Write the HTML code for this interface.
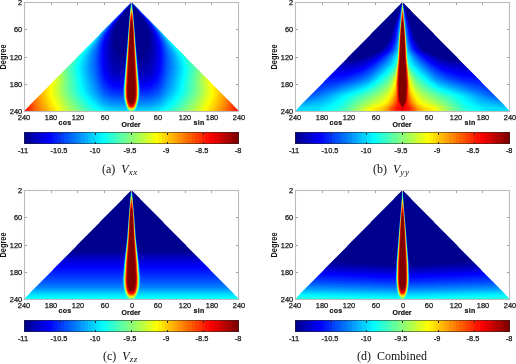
<!DOCTYPE html><html><head><meta charset="utf-8"><style>
*{margin:0;padding:0;box-sizing:border-box}
html,body{width:516px;height:364px;overflow:hidden;background:#fff}
body{position:relative;font-family:"Liberation Sans",sans-serif;color:#111}
.yl,.xl,.cl{-webkit-text-stroke:0.25px #111}
.ord,.cos,.sin{-webkit-text-stroke:0.2px #111}
.p{position:absolute;width:258px;height:182px}
.p>*{position:absolute}
.hm{left:24px;top:2px;width:215px;height:109px}
.ln{background:#bcbcbc;box-shadow:0 0 0.8px #ccc}
.tk{background:#a0a0a0}
.ctk{background:#2a2a3a}
.yl{left:0;width:22.2px;text-align:right;font-size:7.9px;line-height:10px;white-space:nowrap;transform:scale(0.94,1.0);transform-origin:100% 50%}
.xl{width:30px;top:112.5px;text-align:center;font-size:7.9px;line-height:10px;transform:scaleX(0.94)}
.cl{width:30px;top:146.2px;text-align:center;font-size:7.9px;line-height:10px;transform:scaleX(0.94)}
.deg{left:-10.8px;top:51.9px;width:30px;height:10px;line-height:10px;text-align:center;font-size:8.2px;font-weight:bold;transform:rotate(-90deg) scaleX(0.9);transform-origin:50% 50%}
.ord{left:116.2px;top:120.4px;width:30px;text-align:center;font-size:7.8px;font-weight:bold;line-height:10px;transform:scaleX(0.9)}
.cos{left:49.6px;top:117.8px;width:30px;text-align:center;font-size:7.8px;letter-spacing:0.3px;font-weight:bold;line-height:10px;transform:scaleX(0.9)}
.sin{left:184.2px;top:117.8px;width:30px;text-align:center;font-size:7.8px;letter-spacing:0.3px;font-weight:bold;line-height:10px;transform:scaleX(0.9)}
.cb{left:24px;top:132px;width:215px;height:12px;background:linear-gradient(90deg,#00008f,#00f 12.5%,#0ff 37.5%,#ff0 62.5%,#f00 87.5%,#800000)}
.fb{left:24px;top:2px;width:215px;height:109px;clip-path:polygon(50% 0,100% 100%,0 100%)}
.fb i{position:absolute;left:50%;margin-left:-7px;width:14px;top:1%;height:96%;clip-path:polygon(50% 0,70% 40%,85% 80%,78% 93%,50% 100%,22% 93%,15% 80%,30% 40%);background:radial-gradient(ellipse 50% 60% at 50% 65%,#800000 55%,#f00 70%,#ff0 82%,#0ff 92%,#00f 100%)}
.fb1{background:linear-gradient(rgba(0,0,150,.75),rgba(0,0,150,0) 65%),linear-gradient(90deg,#f00,#fa0 8%,#ff0 18%,#0ff 32%,#06f 42%,#00a 48%,#00a 52%,#06f 58%,#0ff 68%,#ff0 82%,#fa0 92%,#f00)}
.fb2{background:radial-gradient(ellipse 70% 90% at 50% 100%,#800000,#f00 12%,#ff0 35%,#0ff 60%,#06f 80%,#000090 100%)}
.fb3,.fb4{background:linear-gradient(#000090 55%,#00f 78%,#08f 90%,#0ff)}
.fb4 i{width:11px;margin-left:-5.5px}
.cbb{left:24px;top:132px;width:215px;height:12px;border:1px solid rgba(40,40,40,.55)}
.cap{font-family:"Liberation Serif",serif;font-size:12px;line-height:14px;top:162px;white-space:nowrap;color:#111}
.cap i{font-style:italic}
.cap sub{font-size:9px;letter-spacing:0.7px;vertical-align:baseline;position:relative;top:2.1px}
</style></head><body>
<div class="p" style="left:0px;top:0px">
<div class="fb fb1"><i></i></div>
<canvas class="hm" id="hm1" width="215" height="109"></canvas>
<div class="ln" style="left:24px;top:2px;width:215px;height:1px"></div>
<div class="ln" style="left:24px;top:2px;width:1px;height:110px"></div>
<div class="ln" style="left:238px;top:2px;width:1px;height:110px"></div>
<div class="ln" style="left:24px;top:111px;width:215px;height:1px"></div>
<div class="tk" style="left:50.6px;top:3px;width:1px;height:2px"></div>
<div class="tk" style="left:77.4px;top:3px;width:1px;height:2px"></div>
<div class="tk" style="left:104.2px;top:3px;width:1px;height:2px"></div>
<div class="tk" style="left:131.0px;top:3px;width:1px;height:2px"></div>
<div class="tk" style="left:157.8px;top:3px;width:1px;height:2px"></div>
<div class="tk" style="left:184.6px;top:3px;width:1px;height:2px"></div>
<div class="tk" style="left:211.4px;top:3px;width:1px;height:2px"></div>
<div class="tk" style="left:25px;top:28.8px;width:2px;height:1px"></div>
<div class="tk" style="left:236px;top:28.8px;width:2px;height:1px"></div>
<div class="tk" style="left:25px;top:56.6px;width:2px;height:1px"></div>
<div class="tk" style="left:236px;top:56.6px;width:2px;height:1px"></div>
<div class="tk" style="left:25px;top:84.1px;width:2px;height:1px"></div>
<div class="tk" style="left:236px;top:84.1px;width:2px;height:1px"></div>
<div class="yl" style="top:-1.7px">2</div>
<div class="yl" style="top:25.0px">60</div>
<div class="yl" style="top:52.8px">120</div>
<div class="yl" style="top:80.3px">180</div>
<div class="yl" style="top:106.5px">240</div>
<div class="xl" style="left:9.3px">240</div>
<div class="xl" style="left:36.1px">180</div>
<div class="xl" style="left:62.9px">120</div>
<div class="xl" style="left:89.7px">60</div>
<div class="xl" style="left:116.5px">0</div>
<div class="xl" style="left:143.3px">60</div>
<div class="xl" style="left:170.1px">120</div>
<div class="xl" style="left:196.9px">180</div>
<div class="xl" style="left:223.7px">240</div>
<div class="deg">Degree</div>
<div class="ord">Order</div>
<div class="cos">cos</div>
<div class="sin">sin</div>
<canvas class="cb" width="215" height="12"></canvas>
<div class="cbb"></div>
<div class="ctk" style="left:59.5px;top:133px;width:1px;height:2px"></div>
<div class="ctk" style="left:59.5px;top:142px;width:1px;height:2px"></div>
<div class="ctk" style="left:95.3px;top:133px;width:1px;height:2px"></div>
<div class="ctk" style="left:95.3px;top:142px;width:1px;height:2px"></div>
<div class="ctk" style="left:131.0px;top:133px;width:1px;height:2px"></div>
<div class="ctk" style="left:131.0px;top:142px;width:1px;height:2px"></div>
<div class="ctk" style="left:166.7px;top:133px;width:1px;height:2px"></div>
<div class="ctk" style="left:166.7px;top:142px;width:1px;height:2px"></div>
<div class="ctk" style="left:202.5px;top:133px;width:1px;height:2px"></div>
<div class="ctk" style="left:202.5px;top:142px;width:1px;height:2px"></div>
<div class="cl" style="left:8.1px">-11</div>
<div class="cl" style="left:43.8px">-10.5</div>
<div class="cl" style="left:79.6px">-10</div>
<div class="cl" style="left:115.3px">-9.5</div>
<div class="cl" style="left:151.0px">-9</div>
<div class="cl" style="left:186.8px">-8.5</div>
<div class="cl" style="left:222.5px">-8</div>
<div class="cap" style="left:102px">(a)&nbsp; <i>V</i><sub><i>xx</i></sub></div>
</div>
<div class="p" style="left:271px;top:0px">
<div class="fb fb2"><i></i></div>
<canvas class="hm" id="hm2" width="215" height="109"></canvas>
<div class="ln" style="left:24px;top:2px;width:215px;height:1px"></div>
<div class="ln" style="left:24px;top:2px;width:1px;height:110px"></div>
<div class="ln" style="left:238px;top:2px;width:1px;height:110px"></div>
<div class="ln" style="left:24px;top:111px;width:215px;height:1px"></div>
<div class="tk" style="left:50.6px;top:3px;width:1px;height:2px"></div>
<div class="tk" style="left:77.4px;top:3px;width:1px;height:2px"></div>
<div class="tk" style="left:104.2px;top:3px;width:1px;height:2px"></div>
<div class="tk" style="left:131.0px;top:3px;width:1px;height:2px"></div>
<div class="tk" style="left:157.8px;top:3px;width:1px;height:2px"></div>
<div class="tk" style="left:184.6px;top:3px;width:1px;height:2px"></div>
<div class="tk" style="left:211.4px;top:3px;width:1px;height:2px"></div>
<div class="tk" style="left:25px;top:28.8px;width:2px;height:1px"></div>
<div class="tk" style="left:236px;top:28.8px;width:2px;height:1px"></div>
<div class="tk" style="left:25px;top:56.6px;width:2px;height:1px"></div>
<div class="tk" style="left:236px;top:56.6px;width:2px;height:1px"></div>
<div class="tk" style="left:25px;top:84.1px;width:2px;height:1px"></div>
<div class="tk" style="left:236px;top:84.1px;width:2px;height:1px"></div>
<div class="yl" style="top:-1.7px">2</div>
<div class="yl" style="top:25.0px">60</div>
<div class="yl" style="top:52.8px">120</div>
<div class="yl" style="top:80.3px">180</div>
<div class="yl" style="top:106.5px">240</div>
<div class="xl" style="left:9.3px">240</div>
<div class="xl" style="left:36.1px">180</div>
<div class="xl" style="left:62.9px">120</div>
<div class="xl" style="left:89.7px">60</div>
<div class="xl" style="left:116.5px">0</div>
<div class="xl" style="left:143.3px">60</div>
<div class="xl" style="left:170.1px">120</div>
<div class="xl" style="left:196.9px">180</div>
<div class="xl" style="left:223.7px">240</div>
<div class="deg">Degree</div>
<div class="ord">Order</div>
<div class="cos">cos</div>
<div class="sin">sin</div>
<canvas class="cb" width="215" height="12"></canvas>
<div class="cbb"></div>
<div class="ctk" style="left:59.5px;top:133px;width:1px;height:2px"></div>
<div class="ctk" style="left:59.5px;top:142px;width:1px;height:2px"></div>
<div class="ctk" style="left:95.3px;top:133px;width:1px;height:2px"></div>
<div class="ctk" style="left:95.3px;top:142px;width:1px;height:2px"></div>
<div class="ctk" style="left:131.0px;top:133px;width:1px;height:2px"></div>
<div class="ctk" style="left:131.0px;top:142px;width:1px;height:2px"></div>
<div class="ctk" style="left:166.7px;top:133px;width:1px;height:2px"></div>
<div class="ctk" style="left:166.7px;top:142px;width:1px;height:2px"></div>
<div class="ctk" style="left:202.5px;top:133px;width:1px;height:2px"></div>
<div class="ctk" style="left:202.5px;top:142px;width:1px;height:2px"></div>
<div class="cl" style="left:8.1px">-11</div>
<div class="cl" style="left:43.8px">-10.5</div>
<div class="cl" style="left:79.6px">-10</div>
<div class="cl" style="left:115.3px">-9.5</div>
<div class="cl" style="left:151.0px">-9</div>
<div class="cl" style="left:186.8px">-8.5</div>
<div class="cl" style="left:222.5px">-8</div>
<div class="cap" style="left:373px;left:102px">(b)&nbsp; <i>V</i><sub><i>yy</i></sub></div>
</div>
<div class="p" style="left:0px;top:188px">
<div class="fb fb3"><i></i></div>
<canvas class="hm" id="hm3" width="215" height="109"></canvas>
<div class="ln" style="left:24px;top:2px;width:215px;height:1px"></div>
<div class="ln" style="left:24px;top:2px;width:1px;height:110px"></div>
<div class="ln" style="left:238px;top:2px;width:1px;height:110px"></div>
<div class="ln" style="left:24px;top:111px;width:215px;height:1px"></div>
<div class="tk" style="left:50.6px;top:3px;width:1px;height:2px"></div>
<div class="tk" style="left:77.4px;top:3px;width:1px;height:2px"></div>
<div class="tk" style="left:104.2px;top:3px;width:1px;height:2px"></div>
<div class="tk" style="left:131.0px;top:3px;width:1px;height:2px"></div>
<div class="tk" style="left:157.8px;top:3px;width:1px;height:2px"></div>
<div class="tk" style="left:184.6px;top:3px;width:1px;height:2px"></div>
<div class="tk" style="left:211.4px;top:3px;width:1px;height:2px"></div>
<div class="tk" style="left:25px;top:28.8px;width:2px;height:1px"></div>
<div class="tk" style="left:236px;top:28.8px;width:2px;height:1px"></div>
<div class="tk" style="left:25px;top:56.6px;width:2px;height:1px"></div>
<div class="tk" style="left:236px;top:56.6px;width:2px;height:1px"></div>
<div class="tk" style="left:25px;top:84.1px;width:2px;height:1px"></div>
<div class="tk" style="left:236px;top:84.1px;width:2px;height:1px"></div>
<div class="yl" style="top:-1.7px">2</div>
<div class="yl" style="top:25.0px">60</div>
<div class="yl" style="top:52.8px">120</div>
<div class="yl" style="top:80.3px">180</div>
<div class="yl" style="top:106.5px">240</div>
<div class="xl" style="left:9.3px">240</div>
<div class="xl" style="left:36.1px">180</div>
<div class="xl" style="left:62.9px">120</div>
<div class="xl" style="left:89.7px">60</div>
<div class="xl" style="left:116.5px">0</div>
<div class="xl" style="left:143.3px">60</div>
<div class="xl" style="left:170.1px">120</div>
<div class="xl" style="left:196.9px">180</div>
<div class="xl" style="left:223.7px">240</div>
<div class="deg">Degree</div>
<div class="ord">Order</div>
<div class="cos">cos</div>
<div class="sin">sin</div>
<canvas class="cb" width="215" height="12"></canvas>
<div class="cbb"></div>
<div class="ctk" style="left:59.5px;top:133px;width:1px;height:2px"></div>
<div class="ctk" style="left:59.5px;top:142px;width:1px;height:2px"></div>
<div class="ctk" style="left:95.3px;top:133px;width:1px;height:2px"></div>
<div class="ctk" style="left:95.3px;top:142px;width:1px;height:2px"></div>
<div class="ctk" style="left:131.0px;top:133px;width:1px;height:2px"></div>
<div class="ctk" style="left:131.0px;top:142px;width:1px;height:2px"></div>
<div class="ctk" style="left:166.7px;top:133px;width:1px;height:2px"></div>
<div class="ctk" style="left:166.7px;top:142px;width:1px;height:2px"></div>
<div class="ctk" style="left:202.5px;top:133px;width:1px;height:2px"></div>
<div class="ctk" style="left:202.5px;top:142px;width:1px;height:2px"></div>
<div class="cl" style="left:8.1px">-11</div>
<div class="cl" style="left:43.8px">-10.5</div>
<div class="cl" style="left:79.6px">-10</div>
<div class="cl" style="left:115.3px">-9.5</div>
<div class="cl" style="left:151.0px">-9</div>
<div class="cl" style="left:186.8px">-8.5</div>
<div class="cl" style="left:222.5px">-8</div>
<div class="cap" style="left:103px;top:161px">(c)&nbsp; <i>V</i><sub><i>zz</i></sub></div>
</div>
<div class="p" style="left:271px;top:188px">
<div class="fb fb4"><i></i></div>
<canvas class="hm" id="hm4" width="215" height="109"></canvas>
<div class="ln" style="left:24px;top:2px;width:215px;height:1px"></div>
<div class="ln" style="left:24px;top:2px;width:1px;height:110px"></div>
<div class="ln" style="left:238px;top:2px;width:1px;height:110px"></div>
<div class="ln" style="left:24px;top:111px;width:215px;height:1px"></div>
<div class="tk" style="left:50.6px;top:3px;width:1px;height:2px"></div>
<div class="tk" style="left:77.4px;top:3px;width:1px;height:2px"></div>
<div class="tk" style="left:104.2px;top:3px;width:1px;height:2px"></div>
<div class="tk" style="left:131.0px;top:3px;width:1px;height:2px"></div>
<div class="tk" style="left:157.8px;top:3px;width:1px;height:2px"></div>
<div class="tk" style="left:184.6px;top:3px;width:1px;height:2px"></div>
<div class="tk" style="left:211.4px;top:3px;width:1px;height:2px"></div>
<div class="tk" style="left:25px;top:28.8px;width:2px;height:1px"></div>
<div class="tk" style="left:236px;top:28.8px;width:2px;height:1px"></div>
<div class="tk" style="left:25px;top:56.6px;width:2px;height:1px"></div>
<div class="tk" style="left:236px;top:56.6px;width:2px;height:1px"></div>
<div class="tk" style="left:25px;top:84.1px;width:2px;height:1px"></div>
<div class="tk" style="left:236px;top:84.1px;width:2px;height:1px"></div>
<div class="yl" style="top:-1.7px">2</div>
<div class="yl" style="top:25.0px">60</div>
<div class="yl" style="top:52.8px">120</div>
<div class="yl" style="top:80.3px">180</div>
<div class="yl" style="top:106.5px">240</div>
<div class="xl" style="left:9.3px">240</div>
<div class="xl" style="left:36.1px">180</div>
<div class="xl" style="left:62.9px">120</div>
<div class="xl" style="left:89.7px">60</div>
<div class="xl" style="left:116.5px">0</div>
<div class="xl" style="left:143.3px">60</div>
<div class="xl" style="left:170.1px">120</div>
<div class="xl" style="left:196.9px">180</div>
<div class="xl" style="left:223.7px">240</div>
<div class="deg">Degree</div>
<div class="ord">Order</div>
<div class="cos">cos</div>
<div class="sin">sin</div>
<canvas class="cb" width="215" height="12"></canvas>
<div class="cbb"></div>
<div class="ctk" style="left:59.5px;top:133px;width:1px;height:2px"></div>
<div class="ctk" style="left:59.5px;top:142px;width:1px;height:2px"></div>
<div class="ctk" style="left:95.3px;top:133px;width:1px;height:2px"></div>
<div class="ctk" style="left:95.3px;top:142px;width:1px;height:2px"></div>
<div class="ctk" style="left:131.0px;top:133px;width:1px;height:2px"></div>
<div class="ctk" style="left:131.0px;top:142px;width:1px;height:2px"></div>
<div class="ctk" style="left:166.7px;top:133px;width:1px;height:2px"></div>
<div class="ctk" style="left:166.7px;top:142px;width:1px;height:2px"></div>
<div class="ctk" style="left:202.5px;top:133px;width:1px;height:2px"></div>
<div class="ctk" style="left:202.5px;top:142px;width:1px;height:2px"></div>
<div class="cl" style="left:8.1px">-11</div>
<div class="cl" style="left:43.8px">-10.5</div>
<div class="cl" style="left:79.6px">-10</div>
<div class="cl" style="left:115.3px">-9.5</div>
<div class="cl" style="left:151.0px">-9</div>
<div class="cl" style="left:186.8px">-8.5</div>
<div class="cl" style="left:222.5px">-8</div>
<div class="cap" style="left:86px;top:161px">(d)&nbsp; Combined</div>
</div>
<script>(function(){
var JET=[[0,0,143],[0,0,159],[0,0,175],[0,0,191],[0,0,207],[0,0,223],[0,0,239],[0,0,255],[0,16,255],[0,32,255],[0,48,255],[0,64,255],[0,80,255],[0,96,255],[0,112,255],[0,128,255],[0,143,255],[0,159,255],[0,175,255],[0,191,255],[0,207,255],[0,223,255],[0,239,255],[0,255,255],[16,255,239],[32,255,223],[48,255,207],[64,255,191],[80,255,175],[96,255,159],[112,255,143],[128,255,128],[143,255,112],[159,255,96],[175,255,80],[191,255,64],[207,255,48],[223,255,32],[239,255,16],[255,255,0],[255,239,0],[255,223,0],[255,207,0],[255,191,0],[255,175,0],[255,159,0],[255,143,0],[255,128,0],[255,112,0],[255,96,0],[255,80,0],[255,64,0],[255,48,0],[255,32,0],[255,16,0],[255,0,0],[239,0,0],[223,0,0],[207,0,0],[191,0,0],[175,0,0],[159,0,0],[143,0,0],[128,0,0]];
function L(tab,x){
  if(x<=tab[0][0]) return tab[0][1];
  for(var i=1;i<tab.length;i++){ if(x<=tab[i][0]){var a=tab[i-1],b=tab[i];return a[1]+(b[1]-a[1])*(x-a[0])/(b[0]-a[0]);} }
  return tab[tab.length-1][1];
}
function lsum(ts){ var s=0; for(var i=0;i<ts.length;i++) s+=Math.pow(10,3*ts[i]); return Math.log(s)/Math.LN10/3; }

function L2(ds,ms,tab,d,m){ // tab rows per d, cols per m
  var i=0; while(i<ds.length-2 && d>ds[i+1]) i++;
  var fd=(d-ds[i])/(ds[i+1]-ds[i]); if(fd<0)fd=0; if(fd>1)fd=1;
  var j=0; while(j<ms.length-2 && m>ms[j+1]) j++;
  var fm=(m-ms[j])/(ms[j+1]-ms[j]); if(fm<0)fm=0; if(fm>1)fm=1;
  var a=tab[i][j]*(1-fm)+tab[i][j+1]*fm, b=tab[i+1][j]*(1-fm)+tab[i+1][j+1]*fm;
  return a*(1-fd)+b*fd;
}
function flame(m,d,W,T){ var w=L(W,d); var r=Math.abs(m)/w; return L(T,d)-0.147*r*r*r; }
var B_D=[2,40,83,105,120,136,171,207,222,235,241];
var B_S=[0,0.05,0.1,0.15,0.2,0.3,0.45,0.6,0.8,1.0];
var B_T=[
[.5,.4,.3,.22,.15,.05,-.05,-.1,-.15,-.2],
[.5,.4,.3,.22,.15,.05,-.05,-.1,-.15,-.2],
[.5,.38,.28,.2,.14,.05,-.05,-.1,-.15,-.2],
[.5,.38,.3,.24,.18,.1,.01,-.04,-.1,-.15],
[.55,.45,.36,.31,.26,.18,.09,.03,-.02,-.05],
[.6,.5,.4,.35,.31,.24,.15,.08,.05,.04],
[.8,.7,.58,.49,.44,.37,.26,.2,.15,.14],
[.89,.8,.67,.6,.56,.5,.43,.37,.28,.2],
[.89,.83,.72,.64,.6,.55,.47,.385,.31,.27],
[.87,.86,.8,.71,.665,.62,.5,.4,.34,.33],
[.86,.85,.79,.71,.665,.62,.5,.4,.34,.33]];
var M={
 1:function(m,d){ // Vxx
   var am=Math.abs(m), sv=am/Math.max(d,1), s2=sv*sv;
   var gam=L([[0,0.3],[61,0.22],[120,0.06],[146,0.03],[174,0.06],[240,0.03]],d);
   var te=L([[0,-0.1],[40,-0.05],[60,0.05],[80,0.18],[106,0.29],[127,0.37],[146,0.43],[162,0.49],[175,0.53],[213,0.64],[240,0.74]],am)
          +L([[0,0],[146,0],[200,0.03],[240,0.1]],d)+gam*s2*s2;
   var th=L([[0,-0.3],[127,-0.1],[161,-0.03],[183,0.05],[205,0.14],[227,0.24],[240,0.31]],d);
   var tf=flame(m,d,[[0,1.0],[20,2.0],[50,3.2],[101,5.3],[150,7.6],[190,9.4],[208,9.2],[216,8.8],[226,7.5],[240,6]],
                    [[0,0.3],[10,0.45],[20,0.7],[30,0.85],[45,1.0],[60,1.087],[205,1.087],[220,1.02],[226,0.94],[230,0.86],[233,0.76],[236,0.62],[238,0.5],[241,0.36]]);
   return lsum([te,th,tf]);
 },
 2:function(m,d){ // Vyy
   var am=Math.abs(m), sv=am/Math.max(d,1);
   var tc=L2(B_D,B_S,B_T,d,sv);
   var tf=flame(m,d,[[0,0.9],[20,1.6],[41,2.3],[83,4.6],[127,6.3],[150,7.8],[181,8.8],[200,8.0],[216,6.8],[222,5.6],[226,4.2],[229,2.8],[233,1]],
                    [[0,0.3],[10,0.45],[20,0.7],[30,0.85],[45,1.0],[60,1.087],[218,1.087],[224,1.0],[228,0.92],[231,0.86],[241,0.8]]);
   return lsum([tc,tf]);
 },
 3:function(m,d){ // Vzz
   var th=L([[0,-0.3],[133,0.0],[150,0.06],[173,0.125],[199,0.19],[216,0.25],[229,0.33],[241,0.38]],d);
   var tf=flame(m,d,[[0,1.0],[20,1.8],[50,3.0],[105,5.2],[160,8.6],[194,10.0],[210,9.8],[222,9.0],[240,7]],
                    [[0,0.3],[10,0.45],[20,0.7],[30,0.85],[45,1.0],[60,1.087],[205,1.087],[218,1.02],[224,0.94],[228,0.86],[232,0.74],[235,0.6],[238,0.48],[241,0.36]]);
   return lsum([th,tf]);
 },
 4:function(m,d){ // combined
   var sv=Math.abs(m)/Math.max(d,1);
   var th=L([[0,-0.3],[150,-0.04],[170,0.02],[185,0.09],[203,0.16],[218,0.24],[230,0.32],[241,0.38]],d)+0.03*sv;
   var tf=flame(m,d,[[0,0.8],[20,1.3],[50,2.4],[105,4.8],[160,7.2],[194,7.7],[212,7.2],[225,6.5],[240,5]],
                    [[0,0.3],[20,0.55],[30,0.7],[40,0.85],[55,0.98],[70,1.087],[205,1.087],[216,1.02],[222,0.94],[227,0.85],[231,0.72],[234,0.6],[237,0.45],[241,0.36]]);
   return lsum([th,tf]);
 }
};
var X0=24.3-24, X1=238.7-24, Y0=2.5-2, Y1=111.0-2;
var SS=3;
function draw(id,fn){
  var c=document.getElementById(id); if(!c) return;
  var ctx=c.getContext('2d'); var W=c.width,H=c.height;
  var img=ctx.createImageData(W,H); var D=img.data;
  for(var j=0;j<H;j++) for(var i=0;i<W;i++){
    var r=0,g=0,b=0;
    for(var sj=0;sj<SS;sj++) for(var si=0;si<SS;si++){
      var x=i+(si+0.5)/SS, y=j+(sj+0.5)/SS;
      var m=(x-(X0+X1)/2)/(X1-X0)*481; var d=0.5+(y-Y0)/(Y1-Y0)*240;
      if(Math.abs(m)>d+0.5 || d<1.5 || x<X0 || x>X1 || y<Y0 || y>Y1){ r+=255;g+=255;b+=255; continue; }
      var t=fn(m,d); var k=Math.floor(t*64); if(k<0)k=0; if(k>63)k=63;
      var cc=JET[k]; r+=cc[0]; g+=cc[1]; b+=cc[2];
    }
    var n=SS*SS, o=(j*W+i)*4; D[o]=r/n; D[o+1]=g/n; D[o+2]=b/n; D[o+3]=255;
  }
  ctx.putImageData(img,0,0);
}
for(var p=1;p<=4;p++) draw('hm'+p, M[p]);
var cbs=document.getElementsByClassName('cb');
for(var q=0;q<cbs.length;q++){
  var c=cbs[q], ctx=c.getContext('2d');
  for(var i=0;i<c.width;i++){
    var x=i+0.5-0.3; var k=Math.floor(x/214.4*64); if(k<0)k=0; if(k>63)k=63;
    var cc=JET[k]; ctx.fillStyle='rgb('+cc[0]+','+cc[1]+','+cc[2]+')'; ctx.fillRect(i,0,1,c.height);
  }
}
})();
</script>
</body></html>
